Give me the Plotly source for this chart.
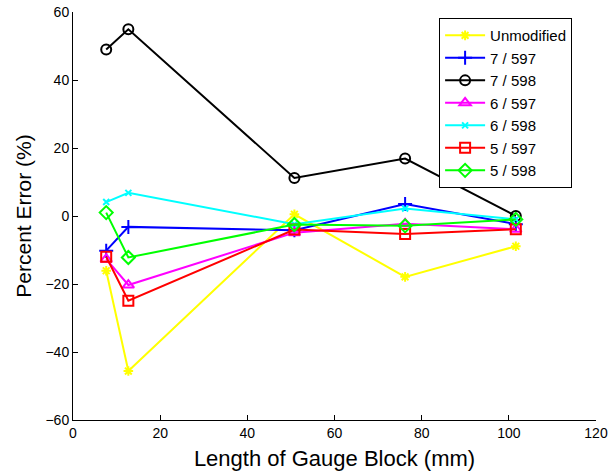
import plotly.graph_objects as go

# Gauge block lengths (mm)
block_length = [7.62, 12.7, 50.8, 76.2, 101.6]

# Percent error per configuration
unmodified = [-16.1, -45.6, 0.5, -17.9, -8.9]
err_7_597 = [-10.2, -3.2, -4.2, 3.5, -2.4]
err_7_598 = [49.0, 54.9, 11.2, 16.9, 0.0]
err_6_597 = [-12.7, -20.3, -4.9, -2.3, -3.9]
err_6_598 = [4.1, 6.8, -2.4, 2.2, -1.0]
err_5_597 = [-12.0, -24.9, -4.0, -5.3, -3.9]
err_5_598 = [1.0, -12.2, -2.5, -2.9, -1.0]

series = [
    ("Unmodified", unmodified, "#FFFF00", "asterisk-open", 8),
    ("7 / 597", err_7_597, "#0000FF", "cross-thin-open", 10),
    ("7 / 598", err_7_598, "#000000", "circle-open", 10),
    ("6 / 597", err_6_597, "#FF00FF", "triangle-up-open", 10),
    ("6 / 598", err_6_598, "#00FFFF", "x-thin-open", 6),
    ("5 / 597", err_5_597, "#FF0000", "square-open", 10),
    ("5 / 598", err_5_598, "#00FF00", "diamond-open", 10),
]

fig = go.Figure()
for name, vals, color, symbol, msize in series:
    fig.add_trace(go.Scatter(
        x=block_length, y=vals, name=name, mode="lines+markers",
        line=dict(color=color, width=2),
        marker=dict(symbol=symbol, size=msize, color=color,
                    line=dict(color=color, width=2)),
    ))

font_family = "Liberation Sans, Arial, sans-serif"
axis_common = dict(
    showline=True, linecolor="black", linewidth=1,
    ticks="inside", ticklen=5, tickcolor="black",
    showgrid=False, zeroline=False, mirror=False, automargin=False,
    tickfont=dict(family=font_family, size=14, color="black"),
)

fig.update_layout(
    width=611, height=475,
    margin=dict(l=73, r=15, t=12, b=55),
    paper_bgcolor="white", plot_bgcolor="white",
    font=dict(family=font_family, color="black"),
    showlegend=True,
    legend=dict(
        x=0.70, y=0.985, xanchor="left", yanchor="top",
        bgcolor="white", bordercolor="black", borderwidth=1,
        font=dict(family=font_family, size=15, color="black"),
        itemwidth=40,
    ),
    xaxis=dict(
        range=[0, 120], tickvals=[0, 20, 40, 60, 80, 100, 120],
        title=dict(text="Length of Gauge Block (mm)",
                   font=dict(family=font_family, size=22), standoff=10),
        **axis_common,
    ),
    yaxis=dict(
        range=[-60, 60], tickvals=[-60, -40, -20, 0, 20, 40, 60],
        title=dict(text="Percent Error (%)",
                   font=dict(family=font_family, size=21), standoff=8),
        **axis_common,
    ),
)

fig.write_html("out.html")
